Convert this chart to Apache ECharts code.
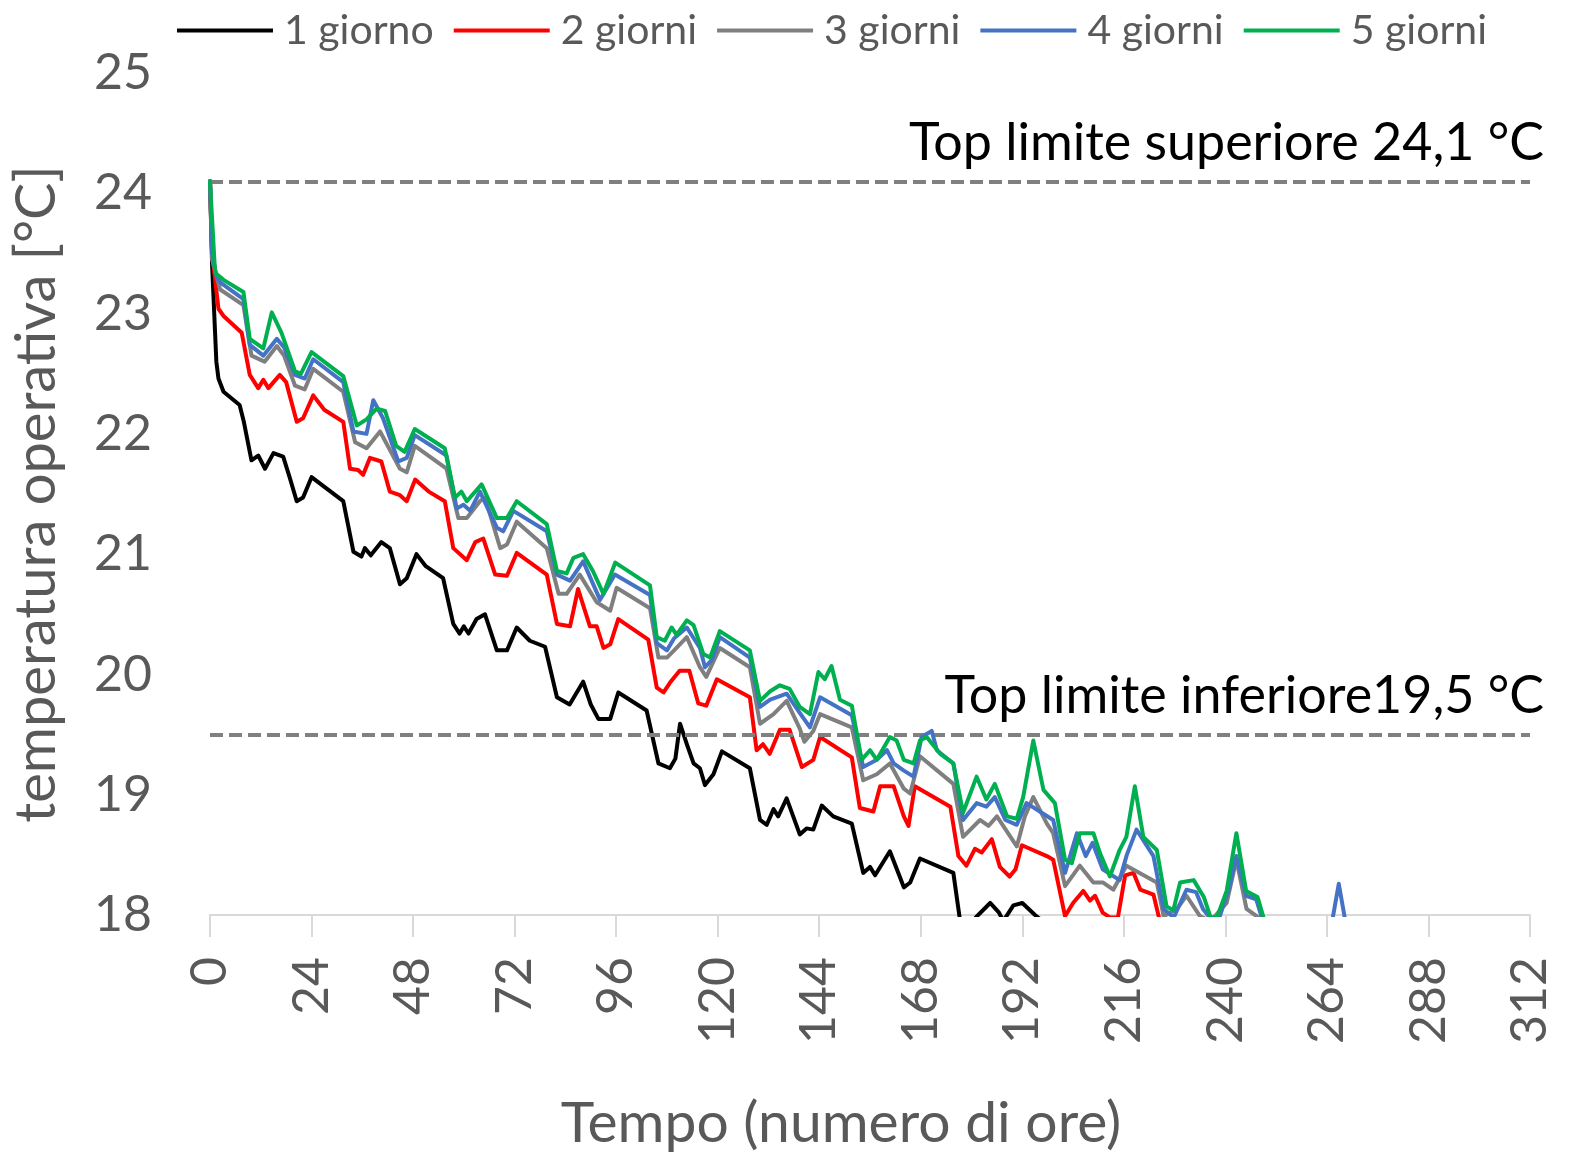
<!DOCTYPE html>
<html>
<head>
<meta charset="utf-8">
<script src="https://cdn.jsdelivr.net/npm/echarts@6/dist/echarts.min.js"></script>
<style>
  html, body { margin: 0; padding: 0; background: #fff; }
  #chart { width: 1580px; height: 1157px; }
</style>
</head>
<body>
<div id="chart"></div>
<script>
// legenda / serie
var seriesNames = ['1 giorno', '2 giorni', '3 giorni', '4 giorni', '5 giorni'];
var seriesColors = ['#000000', '#ff0000', '#7f7f7f', '#4472c4', '#00b050'];

// limiti Top
var limitValues = [24.1, 19.5];
var limitLabels = ['Top limite superiore 24,1 °C', 'Top limite inferiore19,5 °C'];

// [ora, temperatura operativa]
var giorno1 = [[0,24.1],[0.5,23.4],[1.5,22.6],[2,22.46],[3.2,22.35],[7,22.24],[8,22.1],[9.8,21.78],[11.4,21.82],[13,21.71],[15,21.84],[17.3,21.81],[18.9,21.63],[20.5,21.44],[22,21.47],[24,21.64],[31.5,21.44],[33.9,21.02],[35.8,20.98],[36.6,21.05],[38,20.99],[40.5,21.1],[42.5,21.05],[44.9,20.75],[46.5,20.8],[48.8,21.0],[51,20.9],[55.1,20.8],[57.5,20.42],[59,20.34],[60,20.4],[61.1,20.34],[63,20.46],[65,20.5],[67.8,20.2],[70.2,20.2],[72.5,20.39],[75.6,20.28],[79.2,20.23],[82,19.81],[85,19.75],[88.2,19.94],[90,19.75],[91.8,19.63],[94.6,19.63],[96.5,19.85],[103.2,19.7],[106,19.26],[108.7,19.22],[110,19.3],[111.1,19.59],[112.7,19.42],[114.3,19.26],[115.8,19.22],[117,19.08],[119,19.17],[121,19.36],[127.6,19.22],[130,18.79],[131.6,18.75],[133.2,18.88],[134.3,18.82],[136.3,18.97],[139.4,18.67],[141,18.72],[142.6,18.71],[144.6,18.91],[147.3,18.82],[151.7,18.76],[154.4,18.35],[156,18.4],[157.2,18.33],[160.7,18.53],[164,18.23],[165.5,18.27],[167.8,18.47],[175.7,18.35],[177.3,17.95],[179,17.85],[181,17.98],[184.4,18.1],[186.5,18.02],[187.5,17.95],[189.9,18.08],[192,18.1],[195,18.0],[198.5,17.9],[205,17.8],[215,17.7]];

var giorno2 = [[0,24.1],[0.5,23.5],[2,23.04],[3.2,22.98],[7.5,22.84],[9.4,22.49],[11.4,22.38],[12.6,22.45],[13.8,22.38],[16.5,22.49],[18,22.43],[20.5,22.1],[22,22.13],[24.4,22.32],[27,22.2],[31.5,22.1],[33.1,21.71],[35,21.7],[36.2,21.66],[37.8,21.8],[40.5,21.77],[42.5,21.52],[44.9,21.49],[46.5,21.44],[48.5,21.62],[51.7,21.52],[55.5,21.44],[57.5,21.05],[60.7,20.95],[62.7,21.1],[64.6,21.13],[67.4,20.83],[70.2,20.82],[72.5,21.01],[79.6,20.83],[82,20.42],[85.1,20.4],[87,20.71],[89.8,20.4],[91.4,20.4],[93,20.22],[94.6,20.25],[96.5,20.46],[103.6,20.29],[105.6,19.89],[107.2,19.85],[108.7,19.93],[111,20.03],[113.3,20.03],[115.4,19.76],[117.3,19.74],[119.8,19.96],[127.6,19.81],[129.2,19.37],[130.7,19.42],[132.3,19.34],[134.7,19.54],[137,19.54],[139.9,19.23],[142.6,19.29],[144.2,19.48],[151.7,19.31],[153.6,18.89],[156.8,18.86],[158.4,19.07],[161.6,19.07],[164,18.82],[165.1,18.74],[166.6,19.07],[175,18.9],[176.9,18.49],[178.8,18.41],[180.8,18.55],[182.4,18.52],[184.8,18.63],[186.7,18.4],[189,18.32],[190.4,18.38],[191.9,18.58],[197.8,18.49],[199.3,18.46],[202.1,17.99],[204,18.1],[206.4,18.2],[208,18.12],[209.2,18.16],[211,18.02],[212.7,17.98],[214.6,17.98],[216.3,18.33],[218.3,18.35],[219.9,18.21],[223,18.17],[224.5,17.95],[226,17.8],[235,17.6]];

var giorno3 = [[0,24.1],[0.5,23.45],[2.4,23.2],[7.9,23.07],[9.8,22.65],[12.9,22.6],[15.8,22.73],[17.5,22.65],[20.1,22.4],[22.4,22.37],[24.4,22.54],[31.5,22.35],[34.3,21.93],[37,21.88],[40.2,22.02],[44.9,21.71],[46.5,21.68],[48.4,21.9],[55.9,21.71],[58.7,21.3],[60.7,21.3],[63.8,21.44],[65,21.47],[68.6,21.05],[70.2,21.08],[72.5,21.27],[79.6,21.05],[82.4,20.67],[84.3,20.67],[87.4,20.83],[91.4,20.6],[94.6,20.53],[96.1,20.72],[104,20.55],[106,20.14],[108,20.14],[109.7,20.2],[112.7,20.31],[115.8,20.06],[117.3,19.98],[120.5,20.22],[127.6,20.06],[130,19.59],[133.2,19.67],[136.3,19.78],[139.4,19.55],[140.5,19.44],[142.6,19.53],[144.2,19.67],[151.7,19.56],[154.4,19.12],[157.6,19.17],[160.7,19.26],[164,19.05],[165.5,19.01],[167.8,19.32],[175.7,19.09],[178,18.65],[182,18.79],[184,18.74],[186,18.82],[190.7,18.57],[192.6,18.82],[194.6,18.98],[197.8,18.76],[199.3,18.68],[202.1,18.24],[205.6,18.41],[208.8,18.27],[211.1,18.27],[213.5,18.21],[216.6,18.41],[223.8,18.27],[225.4,17.99],[228.5,18.05],[230.8,18.16],[234,17.99],[236.5,17.95],[240.3,18.1],[242.6,18.46],[245,18.05],[247.4,17.99],[250,17.9],[260,17.8]];

var giorno4 = [[0,24.1],[0.5,23.5],[1.6,23.3],[2.4,23.26],[7.9,23.12],[9.4,22.74],[12.6,22.65],[15.8,22.79],[17.5,22.72],[20.1,22.49],[22.4,22.46],[24.4,22.62],[31.5,22.43],[33.9,22.02],[37,22.0],[38.6,22.28],[40.9,22.13],[44.5,21.77],[46.5,21.8],[48.4,21.99],[55.9,21.82],[58.3,21.38],[59.9,21.41],[61.5,21.36],[63.8,21.52],[67.8,21.22],[69.3,21.19],[71.7,21.36],[79.6,21.19],[82,20.83],[85.1,20.78],[88.2,20.94],[92.2,20.62],[95.7,20.83],[104,20.66],[105.6,20.26],[108,20.2],[109.7,20.3],[112.7,20.39],[115.8,20.22],[117,20.06],[118.6,20.12],[120.5,20.31],[127.6,20.14],[130,19.73],[132.4,19.79],[136.3,19.84],[139.4,19.68],[141.8,19.56],[144.2,19.81],[151.7,19.66],[154.4,19.23],[157.6,19.29],[160,19.37],[161.6,19.26],[164,19.2],[166.3,19.15],[168.2,19.48],[170.6,19.53],[171.8,19.37],[175.7,19.26],[178,18.79],[181.2,18.93],[183.5,18.9],[185.5,18.98],[188,18.79],[190.7,18.75],[193,18.93],[199.3,18.79],[202.1,18.35],[204.9,18.68],[207,18.49],[208.6,18.6],[211,18.38],[215,18.29],[216.7,18.5],[219,18.71],[223,18.49],[225.4,18.05],[227.8,17.98],[230.8,18.21],[233.1,18.19],[234.7,18.05],[236.3,17.98],[238.6,17.98],[241,18.24],[242.6,18.49],[244.9,18.16],[247.3,18.13],[248.6,17.98],[250,17.9],[265,17.9],[266.8,18.26],[268.6,17.9],[275,17.8]];

var giorno5 = [[0,24.1],[1.2,23.34],[3.2,23.28],[7.9,23.18],[9.4,22.79],[12.6,22.71],[14.6,23.01],[16.9,22.84],[19.3,22.6],[20.1,22.52],[21.5,22.5],[24,22.68],[31.5,22.48],[34.7,22.07],[37,22.12],[39.4,22.21],[41.4,22.19],[44,21.9],[46,21.85],[48.4,22.04],[55.5,21.88],[57.9,21.47],[59.4,21.52],[60.7,21.44],[64.2,21.58],[67.8,21.3],[70.2,21.3],[72.5,21.44],[79.6,21.25],[82,20.86],[84.3,20.84],[85.9,20.97],[88.2,21.0],[90.5,20.86],[93,20.67],[95.8,20.93],[104,20.74],[105.6,20.31],[107.5,20.28],[109.1,20.39],[110.3,20.33],[112.7,20.45],[114.3,20.41],[116.6,20.17],[118.2,20.14],[120.5,20.36],[127.6,20.2],[130,19.78],[132.4,19.86],[134.7,19.91],[137,19.88],[139.4,19.73],[141.8,19.67],[143.8,20.02],[145.3,19.96],[146.9,20.07],[148.9,19.79],[151.7,19.74],[154,19.29],[156,19.37],[157.6,19.29],[160.7,19.48],[162.3,19.45],[164,19.29],[166.3,19.26],[167.8,19.45],[169.4,19.48],[172.6,19.34],[175.7,19.26],[178,18.85],[181.2,19.15],[183.5,18.96],[185.5,19.09],[188.4,18.82],[190.7,18.8],[192.2,18.98],[194.6,19.45],[197,19.04],[199.7,18.93],[202.1,18.46],[203.7,18.43],[205.6,18.68],[208.8,18.68],[210.4,18.51],[212.7,18.32],[215,18.54],[216.6,18.65],[218.6,19.07],[220.6,18.65],[223.8,18.54],[226.1,18.07],[227.7,18.04],[229.3,18.27],[232.5,18.29],[234.9,18.15],[236.5,17.98],[238,17.98],[240.3,18.2],[242.6,18.68],[244.9,18.2],[247.6,18.15],[249,17.98],[251,17.8]];

var allData = [giorno1, giorno2, giorno3, giorno4, giorno5];

var FONT = 'Lato';
var GREY_TEXT = '#595959';

var chart = echarts.init(document.getElementById('chart'));

var series = [];
for (var i = 0; i < allData.length; i++) {
	var s = {
		name: seriesNames[i],
		type: 'line',
		data: allData[i],
		showSymbol: false,
		symbol: 'none',
		clip: true,
		lineStyle: { width: 4, color: seriesColors[i], join: 'round', cap: 'round' },
		itemStyle: { color: seriesColors[i] },
		z: 2 + i
	};
	series.push(s);
}

// linee limite tratteggiate sul primo grafico
series[0].markLine = {
	silent: true,
	symbol: 'none',
	animation: false,
	lineStyle: { type: [13, 6], color: '#808080', width: 4 },
	label: {
		show: true,
		position: 'insideEndTop',
		color: '#000',
		fontFamily: FONT,
		fontSize: 52,
		distance: [-14, 12]
	},
	data: limitValues.map(function(v, k) {
		return { yAxis: v, label: { formatter: limitLabels[k] } };
	})
};

var option = {
	animation: false,
	backgroundColor: '#ffffff',
	legend: {
		top: 5,
		left: 172,
		itemWidth: 96,
		itemHeight: 4,
		itemGap: 20,
		icon: 'rect',
		data: seriesNames,
		textStyle: { color: GREY_TEXT, fontFamily: FONT, fontSize: 41, padding: [0, 0, 0, 6] }
	},
	grid: { left: 210, right: 50, top: 73, bottom: 238, containLabel: false },
	xAxis: {
		type: 'value',
		min: 0,
		max: 312,
		interval: 24,
		name: 'Tempo (numero di ore)',
		nameLocation: 'middle',
		nameGap: 180,
		nameTextStyle: { color: GREY_TEXT, fontFamily: FONT, fontSize: 57, padding: [0, 58, 0, 0] },
		axisLine: { show: true, lineStyle: { color: '#d9d9d9', width: 2 } },
		axisTick: { show: true, length: 22, lineStyle: { color: '#d9d9d9', width: 2 } },
		axisLabel: { rotate: 90, margin: 42, color: GREY_TEXT, fontFamily: FONT, fontSize: 50 },
		splitLine: { show: false }
	},
	yAxis: {
		type: 'value',
		min: 18,
		max: 25,
		interval: 1,
		name: 'temperatura operativa [°C]',
		nameLocation: 'middle',
		nameGap: 145,
		nameRotate: 90,
		nameTextStyle: { color: GREY_TEXT, fontFamily: FONT, fontSize: 56 },
		axisLine: { show: false },
		axisTick: { show: false },
		axisLabel: { margin: 58, color: GREY_TEXT, fontFamily: FONT, fontSize: 50 },
		splitLine: { show: false }
	},
	series: series
};

chart.setOption(option);
</script>
</body>
</html>
